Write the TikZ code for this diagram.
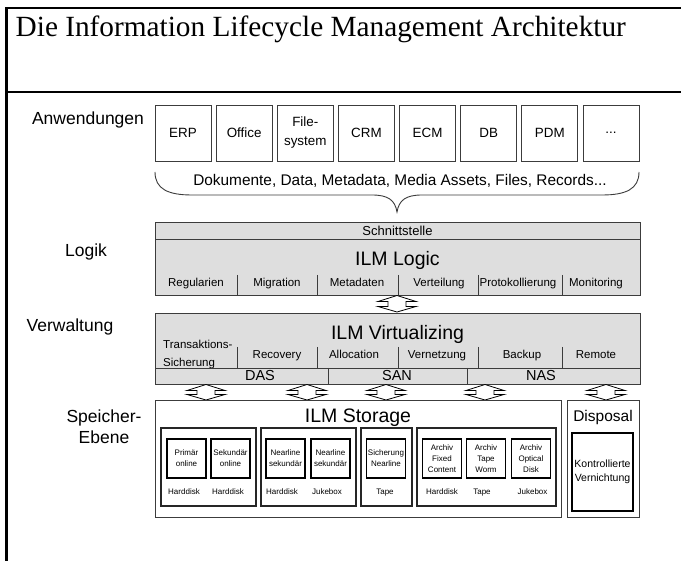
\documentclass[tikz,border=0pt]{standalone}
\usepackage{fontspec}
\setmainfont{Liberation Sans}
\newfontfamily\titlefont{Liberation Serif}
\usetikzlibrary{calc}
\definecolor{boxgray}{RGB}{222,222,222}
\definecolor{linegray}{RGB}{60,60,60}
\newcommand{\fsz}[2]{\fontsize{#1}{#2}\selectfont}
\newcommand{\dblarrow}[4]{%
  \coordinate (#1-t) at (#2,#3);
  \coordinate (#1-b) at (#2,#4);
  \draw[barrow] (#1-t) -- ($(#1-t)+(19,6)$) -- ($(#1-t)+(9,6)$) -- ($(#1-b)+(9,-5.5)$)
    -- ($(#1-b)+(19,-5.5)$) -- (#1-b) -- ($(#1-b)+(-19,-5.5)$) -- ($(#1-b)+(-9,-5.5)$)
    -- ($(#1-t)+(-9,6)$) -- ($(#1-t)+(-19,6)$) -- cycle;}
\begin{document}
\begin{tikzpicture}[x=1pt,y=-1pt,
  every node/.style={inner sep=0pt, text=black},
  frame/.style={line width=2.2pt, draw=black},
  lbl/.style={font=\fsz{17.5}{21}, align=center},
  appbox/.style={draw=linegray, line width=0.9pt, fill=white, minimum width=56, minimum height=56, font=\fsz{13.4}{19}, align=center},
  graybox/.style={draw=linegray, line width=0.9pt, fill=boxgray, anchor=north west},
  big/.style={font=\fsz{19.5}{22}, text height=14, text depth=4},
  sub/.style={font=\fsz{11.5}{18}, text height=8.5, text depth=2.5},
  netlbl/.style={font=\fsz{14.5}{17}, text height=10.5, text depth=3},
  sep/.style={draw=linegray, line width=0.9pt},
  barrow/.style={draw=black, line width=0.8pt, fill=white, line join=miter},
  whitebox/.style={draw=linegray, line width=1pt, fill=white, anchor=north west},
  grp/.style={draw=black!85, line width=1.1pt, fill=white, minimum height=78},
  innerbox/.style={draw=black, line width=1.3pt, fill=white, minimum width=39, minimum height=39, font=\fsz{8}{11}, align=center},
  dev/.style={font=\fsz{8}{10}, text height=6, text depth=1.8},
]
\useasboundingbox (0,0) rectangle (681,561);
\fill[white] (0,0) rectangle (681,561);
% frame
\draw[frame] (6.5,565) -- (6.5,8) -- (685,8);
\draw[frame] (6.5,92) -- (685,92);
\node[anchor=base west, font=\titlefont\fsz{29.3}{32}] (title) at (15.5,36.5) {Die Information Lifecycle Management Architektur};
% left labels
\node[lbl] (l1) at (88,120) {Anwendungen};
\node[lbl] (l2) at (86,252) {Logik};
\node[lbl] (l3) at (70,327) {Verwaltung};
\node[lbl] (l4) at (104,426.5) {Speicher-\\Ebene};
% applications
\node[appbox] (app1) at (183,133) {ERP};
\node[appbox] (app2) at (244.14,133) {Office};
\node[appbox] (app3) at (305.28,133) {File-\\system};
\node[appbox] (app4) at (366.42,133) {CRM};
\node[appbox] (app5) at (427.56,133) {ECM};
\node[appbox] (app6) at (488.7,133) {DB};
\node[appbox] (app7) at (549.84,133) {PDM};
\node[appbox] (app8) at (611,133) {...};
% brace
\draw[line width=0.9pt, draw=linegray] (155,172) .. controls (155,189) and (168,195) .. (192,195)
  -- (372,195) .. controls (388,195) and (395,200) .. (397,212)
  .. controls (399,200) and (406,195) .. (422,195) -- (602,195)
  .. controls (626,195) and (639,189) .. (639,172);
\node[font=\fsz{15.4}{18}] (docs) at (400,181) {Dokumente, Data, Metadata, Media Assets, Files, Records...};
% logic
\node[graybox, minimum width=485, minimum height=16.5] (schnitt) at (155,222.5) {};
\node[font=\fsz{13}{15}] (schnittt) at (397.5,231) {Schnittstelle};
\node[graybox, minimum width=485, minimum height=56] (logic) at (155,239) {};
\node[big] (logict) at (397.5,261) {ILM Logic};
\foreach \x in {237,317,398,478,562} {\draw[sep] (\x,275) -- (\x,295);}
\foreach \n/\x/\t in {a/196/Regularien,b/277/Migration,c/357/Metadaten,d/439/Verteilung,e/518/Protokollierung,f/596/Monitoring}{
  \node[sub] (lg\n) at (\x,284) {\t};
}
\dblarrow{arr0}{397}{295.5}{312}
% virtualizing
\node[graybox, minimum width=485, minimum height=54.5] (virt) at (155,313.5) {};
\node[big] (virtt) at (397.5,335) {ILM Virtualizing};
\foreach \x in {237,317,398,478,562} {\draw[sep] (\x,347) -- (\x,368);}
\node[sub, anchor=west, align=left, text height=, text depth=] (vta) at (163,354.5) {Transaktions-\\Sicherung};
\foreach \n/\x/\t in {b/277/Recovery,c/354/Allocation,d/437/Vernetzung,e/522/Backup,f/596/Remote}{
  \node[sub] (vt\n) at (\x,356) {\t};
}
\node[graybox, minimum width=485, minimum height=16] (net) at (155,368) {};
\foreach \x in {328,467} {\draw[sep] (\x,368) -- (\x,384);}
\node[netlbl] (das) at (260,376.5) {DAS};
\node[netlbl] (san) at (397,376.5) {SAN};
\node[netlbl] (nas) at (541,376.5) {NAS};
% arrows to storage
\dblarrow{arr1}{206}{384.5}{400}
\dblarrow{arr2}{307}{384.5}{400}
\dblarrow{arr3}{386}{384.5}{400}
\dblarrow{arr4}{485}{384.5}{400}
\dblarrow{arr5}{606}{384.5}{400}
% storage
\node[whitebox, minimum width=406, minimum height=117] (storage) at (155,400) {};
\node[big] (storaget) at (358,418) {ILM Storage};
\node[whitebox, minimum width=72, minimum height=117] (disposal) at (567,400) {};
\node[font=\fsz{15.5}{18}, text height=11.5, text depth=3.5] (disposalt) at (603,418) {Disposal};
\node[innerbox, minimum width=61, minimum height=78, font=\fsz{10.5}{14}] (vern) at (602.5,472) {Kontrollierte\\Vernichtung};
% groups
\node[grp, minimum width=95] (g1) at (208.5,467) {};
\node[grp, minimum width=95] (g2) at (308.5,467) {};
\node[grp, minimum width=51] (g3) at (386.5,467) {};
\node[grp, minimum width=139] (g4) at (486.5,467) {};
\node[innerbox] (s1) at (186.5,458.5) {Primär\\online};
\node[innerbox] (s2) at (230.5,458.5) {Sekundär\\online};
\node[innerbox] (s3) at (285.5,458.5) {Nearline\\sekundär};
\node[innerbox] (s4) at (330.5,458.5) {Nearline\\sekundär};
\node[innerbox] (s5) at (386,458.5) {Sicherung\\Nearline};
\node[innerbox] (s6) at (442,458.5) {Archiv\\Fixed\\Content};
\node[innerbox] (s7) at (486,458.5) {Archiv\\Tape\\Worm};
\node[innerbox] (s8) at (531,458.5) {Archiv\\Optical\\Disk};
\foreach \n/\x/\t in {1/184/Harddisk,2/228/Harddisk,3/282/Harddisk,4/327/Jukebox,5/385/Tape,6/442/Harddisk,7/482/Tape,8/532.5/Jukebox}{
  \node[dev] (d\n) at (\x,492) {\t};
}
\end{tikzpicture}
\end{document}
